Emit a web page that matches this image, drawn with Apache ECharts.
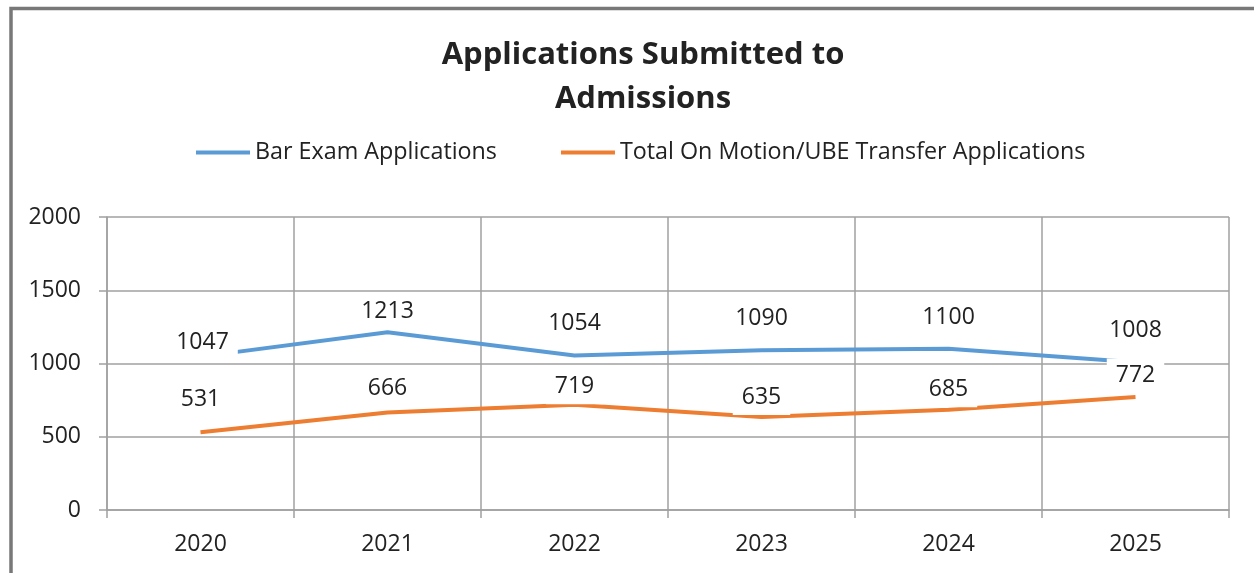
<!DOCTYPE html>
<html>
<head>
<meta charset="utf-8">
<script src="https://cdn.jsdelivr.net/npm/echarts@6/dist/echarts.min.js"></script>
<style>
html,body{margin:0;padding:0;background:#fff;}
#chart{width:1254px;height:573px;}
</style>
</head>
<body>
<div id="chart"></div>
<script>
const years = ['2020', '2021', '2022', '2023', '2024', '2025'];
const barExamApps = [1047, 1213, 1054, 1090, 1100, 1008];
const onMotionApps = [531, 666, 719, 635, 685, 772];
const yTicks = [0, 500, 1000, 1500, 2000];
const seriesNames = ['Bar Exam Applications', 'Total On Motion/UBE Transfer Applications'];
const titleLines = ['Applications Submitted to', 'Admissions'];

// label placement (layout only, not data)
const barLabelShift = [[2, -14], [0, -20.5], [0, -32], [0, -32], [0, -31.5], [0, -32]];
const motionLabelShift = [[0, -33], [0, -24], [0, -18], [0, -19.5], [0, -20], [0, -21]];

const FONT = 'Open Sans';
const TXT = '#222222';
const GRID = '#a0a0a0';

function buildData(values, shifts) {
  return values.map((v, i) => ({
    value: v,
    label: { offset: shifts[i] }
  }));
}

const labelStyle = {
  show: true,
  position: 'inside',
  fontFamily: FONT,
  fontSize: 23,
  color: TXT,
  backgroundColor: '#ffffff',
  padding: [13, 9, 2, 9],
  lineHeight: 20
};

const chart = echarts.init(document.getElementById('chart'), null, { renderer: 'canvas' });
chart.setOption({
  animation: false,
  backgroundColor: '#ffffff',
  title: {
    text: titleLines.join('\n'),
    left: 638,
    textAlign: 'center',
    top: 28,
    textStyle: {
      fontFamily: FONT,
      fontSize: 31,
      fontWeight: 'bold',
      color: TXT,
      lineHeight: 44
    }
  },
  legend: {
    left: 191,
    top: 136,
    icon: 'rect',
    itemWidth: 54,
    itemHeight: 4,
    itemGap: 64,
    textStyle: { fontFamily: FONT, fontSize: 23.3, color: TXT },
    data: seriesNames
  },
  graphic: [{
    type: 'rect',
    shape: { x: 11, y: 8.5, width: 1300, height: 700 },
    style: { fill: 'none', stroke: '#787878', lineWidth: 3.5 },
    silent: true,
    z: 100
  }],
  grid: { left: 107, right: 25, top: 217, bottom: 63 },
  xAxis: {
    type: 'category',
    data: years,
    boundaryGap: true,
    axisLine: { lineStyle: { color: GRID, width: 1.5 } },
    axisTick: { show: true, length: 8, lineStyle: { color: GRID, width: 1.5 } },
    splitLine: { show: true, lineStyle: { color: GRID, width: 1.5 } },
    axisLabel: { fontFamily: FONT, fontSize: 23, color: TXT, margin: 23 }
  },
  yAxis: {
    type: 'value',
    min: yTicks[0],
    max: yTicks[yTicks.length - 1],
    interval: yTicks[1] - yTicks[0],
    axisLine: { show: true, lineStyle: { color: GRID, width: 1.5 } },
    axisTick: { show: true, length: 8, lineStyle: { color: GRID, width: 1.5 } },
    splitLine: { show: true, lineStyle: { color: GRID, width: 1.5 } },
    axisLabel: {
      fontFamily: FONT, fontSize: 23, color: TXT, margin: 26,
      formatter: (v) => String(v)
    }
  },
  series: [
    {
      name: seriesNames[0],
      type: 'line',
      data: buildData(barExamApps, barLabelShift),
      symbol: 'circle',
      symbolSize: 0.01,
      showSymbol: true,
      lineStyle: { color: '#5b9bd5', width: 4 },
      itemStyle: { color: '#5b9bd5' },
      label: labelStyle,
      z: 3
    },
    {
      name: seriesNames[1],
      type: 'line',
      data: buildData(onMotionApps, motionLabelShift),
      symbol: 'circle',
      symbolSize: 0.01,
      showSymbol: true,
      lineStyle: { color: '#ed7d31', width: 4 },
      itemStyle: { color: '#ed7d31' },
      label: labelStyle,
      z: 3
    }
  ]
});
</script>
</body>
</html>
